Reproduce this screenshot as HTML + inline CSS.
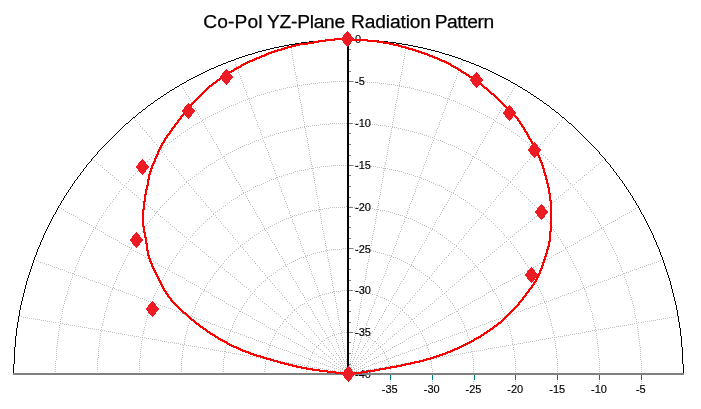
<!DOCTYPE html>
<html><head><meta charset="utf-8"><title>Co-Pol YZ-Plane Radiation Pattern</title>
<style>html,body{margin:0;padding:0;background:#fff;}svg{display:block;}text{font-family:"Liberation Sans",sans-serif;fill:#000;}</style></head><body>
<svg width="701" height="409" viewBox="0 0 701 409">
<rect width="701" height="409" fill="#fff"/>
<path transform="translate(0 0.5)" d="M19 316h1M21 316h1M23 317h1M25 317h1M27 317h1M29 318h1M31 318h1M33 318h1M34 259h1M35 319h1M36 260h1M37 319h1M38 261h1M39 319h1M40 262h1M41 320h1M42 262h1M43 320h1M44 263h1M45 320h1M46 264h1M47 321h1M48 264h1M49 321h1M50 265h1M51 321h1M52 266h1M53 322h1M54 267h1M55 322h1M55 361h1M55 363h1M55 365h1M55 367h1M55 369h1M55 371h1M56 267h1M56 347h1M56 349h1M56 351h1M56 353h1M56 355h1M56 357h1M56 359h1M57 339h1M57 341h1M57 343h1M57 345h1M58 268h1M58 322h1M58 331h1M58 333h1M58 335h1M58 337h1M59 207h1M59 325h1M59 327h1M59 329h1M60 269h1M60 319h1M60 321h1M60 323h1M61 208h1M61 315h1M61 317h1M62 269h1M62 309h1M62 311h1M62 313h1M62 323h1M63 209h1M63 305h1M63 307h1M64 270h1M64 301h1M64 303h1M64 324h1M65 211h1M65 297h1M65 299h1M66 271h1M66 295h1M66 324h1M67 212h1M67 291h1M67 293h1M68 272h1M68 287h1M68 289h1M68 324h1M69 213h1M69 285h1M70 272h1M70 281h1M70 283h1M70 325h1M71 214h1M71 279h1M72 273h1M72 275h1M72 277h1M72 325h1M73 215h1M73 273h1M74 271h1M74 274h1M74 325h1M75 216h1M75 267h1M75 269h1M76 265h1M76 275h1M76 326h1M77 217h1M77 263h1M78 261h1M78 275h1M78 326h1M79 219h1M79 257h1M79 259h1M80 255h1M80 276h1M80 326h1M81 220h1M81 253h1M82 251h1M82 277h1M82 327h1M83 221h1M83 249h1M84 247h1M84 277h1M84 327h1M85 222h1M85 245h1M86 243h1M86 278h1M86 327h1M87 223h1M87 241h1M88 239h1M88 279h1M88 328h1M89 224h1M89 237h1M90 235h1M90 280h1M90 328h1M91 225h1M91 233h1M92 159h1M92 231h1M92 280h1M92 328h1M93 227h1M93 229h1M94 160h1M94 281h1M94 329h1M95 227h1M95 228h1M96 162h1M96 225h1M96 282h1M96 329h1M97 223h1M97 229h1M97 359h1M97 361h1M97 363h1M97 365h1M97 367h1M97 369h1M97 371h1M98 164h1M98 221h1M98 282h1M98 329h1M98 347h1M98 349h1M98 351h1M98 353h1M98 355h1M98 357h1M99 219h1M99 230h1M99 339h1M99 341h1M99 343h1M99 345h1M100 165h1M100 283h1M100 330h1M100 333h1M100 335h1M100 337h1M101 217h1M101 231h1M101 327h1M101 329h1M101 331h1M102 167h1M102 215h1M102 284h1M102 323h1M102 325h1M102 330h1M103 213h1M103 232h1M103 319h1M103 321h1M104 169h1M104 285h1M104 313h1M104 315h1M104 317h1M104 330h1M105 211h1M105 234h1M105 311h1M106 170h1M106 209h1M106 285h1M106 307h1M106 309h1M106 331h1M107 207h1M107 235h1M107 303h1M107 305h1M108 172h1M108 286h1M108 299h1M108 301h1M108 331h1M109 205h1M109 236h1M109 297h1M110 174h1M110 203h1M110 287h1M110 293h1M110 295h1M110 331h1M111 237h1M111 291h1M112 175h1M112 201h1M112 288h1M112 289h1M112 332h1M113 199h1M113 238h1M113 285h1M113 287h1M114 177h1M114 283h1M114 288h1M114 332h1M115 197h1M115 239h1M115 281h1M116 179h1M116 195h1M116 277h1M116 279h1M116 289h1M116 333h1M117 240h1M117 275h1M118 180h1M118 193h1M118 273h1M118 290h1M118 333h1M119 191h1M119 242h1M119 271h1M120 182h1M120 269h1M120 290h1M120 333h1M121 189h1M121 243h1M121 267h1M122 184h1M122 265h1M122 291h1M122 334h1M123 187h1M123 244h1M123 263h1M124 185h1M124 261h1M124 292h1M124 334h1M125 245h1M125 259h1M126 183h1M126 187h1M126 257h1M126 293h1M126 334h1M127 246h1M127 255h1M128 181h1M128 189h1M128 253h1M128 293h1M128 335h1M129 179h1M129 247h1M129 251h1M130 190h1M130 249h1M130 294h1M130 335h1M131 177h1M131 247h1M131 248h1M132 192h1M132 295h1M132 335h1M133 175h1M133 245h1M133 250h1M134 118h1M134 194h1M134 243h1M134 295h1M134 336h1M135 120h1M135 173h1M135 241h1M135 251h1M136 195h1M136 239h1M136 296h1M136 336h1M137 122h1M137 171h1M137 252h1M138 197h1M138 237h1M138 297h1M138 336h1M139 124h1M139 169h1M139 235h1M139 253h1M139 359h1M139 361h1M139 363h1M139 365h1M139 367h1M139 369h1M139 371h1M140 126h1M140 199h1M140 233h1M140 298h1M140 337h1M140 349h1M140 351h1M140 353h1M140 355h1M140 357h1M141 167h1M141 254h1M141 341h1M141 343h1M141 345h1M141 347h1M142 128h1M142 201h1M142 231h1M142 298h1M142 335h1M142 337h1M142 339h1M143 165h1M143 229h1M143 255h1M143 331h1M143 333h1M144 130h1M144 202h1M144 227h1M144 299h1M144 327h1M144 329h1M144 337h1M145 163h1M145 257h1M145 323h1M145 325h1M146 132h1M146 204h1M146 225h1M146 300h1M146 319h1M146 321h1M146 338h1M147 134h1M147 161h1M147 223h1M147 258h1M147 315h1M147 317h1M148 206h1M148 301h1M148 313h1M148 338h1M149 136h1M149 159h1M149 221h1M149 259h1M149 309h1M149 311h1M150 207h1M150 219h1M150 301h1M150 305h1M150 307h1M150 338h1M151 138h1M151 157h1M151 260h1M151 303h1M152 140h1M152 209h1M152 217h1M152 301h1M152 302h1M152 339h1M153 155h1M153 261h1M153 297h1M153 299h1M154 142h1M154 211h1M154 215h1M154 295h1M154 303h1M154 339h1M155 154h1M155 213h1M155 262h1M155 293h1M156 144h1M156 212h1M156 291h1M156 303h1M156 339h1M157 146h1M157 152h1M157 211h1M157 263h1M157 289h1M158 214h1M158 287h1M158 304h1M158 340h1M159 148h1M159 150h1M159 209h1M159 265h1M159 285h1M160 207h1M160 216h1M160 283h1M160 305h1M160 340h1M161 148h1M161 150h1M161 266h1M161 281h1M162 152h1M162 205h1M162 217h1M162 279h1M162 306h1M162 341h1M163 147h1M163 267h1M163 277h1M164 154h1M164 203h1M164 219h1M164 275h1M164 306h1M164 341h1M165 145h1M165 268h1M165 273h1M166 156h1M166 201h1M166 221h1M166 271h1M166 307h1M166 341h1M167 144h1M167 159h1M167 269h1M168 199h1M168 222h1M168 267h1M168 308h1M168 342h1M169 142h1M169 161h1M169 265h1M169 270h1M170 197h1M170 224h1M170 308h1M170 342h1M171 141h1M171 163h1M171 263h1M172 195h1M172 226h1M172 261h1M172 272h1M172 309h1M172 342h1M173 139h1M173 165h1M173 259h1M174 167h1M174 193h1M174 227h1M174 273h1M174 310h1M174 343h1M175 138h1M175 257h1M176 169h1M176 191h1M176 229h1M176 255h1M176 274h1M176 311h1M176 343h1M177 136h1M177 253h1M178 171h1M178 189h1M178 231h1M178 275h1M178 311h1M178 343h1M179 135h1M179 173h1M179 251h1M180 187h1M180 232h1M180 249h1M180 276h1M180 312h1M180 344h1M181 84h1M181 133h1M181 175h1M181 359h1M181 361h1M181 363h1M181 365h1M181 367h1M181 369h1M181 371h1M182 86h1M182 186h1M182 234h1M182 247h1M182 277h1M182 313h1M182 344h1M182 351h1M182 353h1M182 355h1M182 357h1M183 88h1M183 132h1M183 177h1M183 245h1M183 345h1M183 347h1M183 349h1M184 90h1M184 179h1M184 184h1M184 236h1M184 278h1M184 314h1M184 339h1M184 341h1M184 343h1M184 344h1M185 92h1M185 131h1M185 243h1M185 335h1M185 337h1M186 94h1M186 181h1M186 182h1M186 237h1M186 241h1M186 280h1M186 314h1M186 331h1M186 333h1M186 345h1M187 129h1M187 327h1M187 329h1M188 96h1M188 180h1M188 183h1M188 239h1M188 281h1M188 315h1M188 325h1M188 345h1M189 98h1M189 128h1M189 185h1M189 321h1M189 323h1M190 100h1M190 179h1M190 237h1M190 241h1M190 282h1M190 316h1M190 319h1M190 345h1M191 102h1M191 127h1M191 187h1M191 315h1M191 317h1M192 104h1M192 177h1M192 235h1M192 242h1M192 283h1M192 313h1M192 316h1M192 346h1M193 106h1M193 125h1M193 189h1M193 233h1M193 311h1M194 176h1M194 191h1M194 244h1M194 284h1M194 309h1M194 317h1M194 346h1M195 108h1M195 124h1M195 231h1M195 305h1M195 307h1M196 110h1M196 174h1M196 193h1M196 246h1M196 285h1M196 303h1M196 318h1M196 346h1M197 112h1M197 123h1M197 229h1M197 301h1M198 114h1M198 173h1M198 195h1M198 247h1M198 286h1M198 299h1M198 319h1M198 347h1M199 116h1M199 122h1M199 227h1M199 297h1M200 118h1M200 171h1M200 197h1M200 249h1M200 288h1M200 295h1M200 319h1M200 347h1M201 121h1M201 199h1M201 225h1M201 293h1M202 120h1M202 170h1M202 251h1M202 289h1M202 320h1M202 347h1M203 119h1M203 122h1M203 201h1M203 223h1M203 291h1M204 124h1M204 168h1M204 252h1M204 289h1M204 290h1M204 321h1M204 348h1M205 118h1M205 126h1M205 203h1M205 221h1M205 287h1M206 128h1M206 167h1M206 205h1M206 254h1M206 285h1M206 291h1M206 321h1M206 348h1M207 117h1M207 130h1M207 219h1M207 283h1M208 165h1M208 207h1M208 256h1M208 292h1M208 322h1M208 348h1M209 116h1M209 132h1M209 218h1M209 281h1M210 134h1M210 164h1M210 209h1M210 257h1M210 279h1M210 293h1M210 323h1M210 349h1M211 115h1M211 136h1M211 211h1M211 216h1M212 138h1M212 163h1M212 259h1M212 277h1M212 295h1M212 324h1M212 349h1M213 114h1M213 140h1M213 213h1M213 214h1M213 275h1M214 142h1M214 162h1M214 261h1M214 273h1M214 296h1M214 324h1M214 350h1M215 113h1M215 212h1M215 215h1M216 144h1M216 160h1M216 217h1M216 262h1M216 271h1M216 297h1M216 325h1M216 350h1M217 112h1M217 146h1M217 211h1M218 148h1M218 159h1M218 219h1M218 264h1M218 269h1M218 298h1M218 326h1M218 350h1M219 111h1M219 150h1M219 209h1M219 267h1M220 152h1M220 158h1M220 221h1M220 266h1M220 299h1M220 327h1M220 351h1M221 110h1M221 154h1M221 208h1M221 223h1M221 265h1M222 157h1M222 267h1M222 300h1M222 327h1M222 351h1M223 109h1M223 156h1M223 206h1M223 225h1M223 263h1M223 359h1M223 361h1M223 363h1M223 365h1M223 367h1M223 369h1M223 371h1M224 156h1M224 158h1M224 261h1M224 269h1M224 301h1M224 328h1M224 351h1M224 353h1M224 355h1M224 357h1M225 108h1M225 160h1M225 205h1M225 227h1M225 347h1M225 349h1M225 351h1M226 154h1M226 162h1M226 259h1M226 271h1M226 303h1M226 329h1M226 343h1M226 345h1M226 352h1M227 107h1M227 164h1M227 203h1M227 229h1M227 339h1M227 341h1M228 153h1M228 166h1M228 231h1M228 257h1M228 272h1M228 304h1M228 329h1M228 337h1M228 352h1M229 106h1M229 168h1M229 202h1M229 333h1M229 335h1M230 152h1M230 233h1M230 255h1M230 274h1M230 305h1M230 330h1M230 331h1M230 352h1M231 105h1M231 170h1M231 200h1M231 329h1M232 151h1M232 172h1M232 235h1M232 253h1M232 276h1M232 306h1M232 325h1M232 327h1M232 331h1M232 353h1M233 105h1M233 174h1M233 199h1M233 237h1M233 323h1M234 60h1M234 150h1M234 176h1M234 251h1M234 277h1M234 307h1M234 321h1M234 332h1M234 353h1M235 62h1M235 64h1M235 104h1M235 178h1M235 198h1M235 239h1M235 319h1M236 66h1M236 149h1M236 180h1M236 249h1M236 279h1M236 308h1M236 317h1M236 332h1M236 353h1M237 68h1M237 103h1M237 197h1M237 241h1M237 315h1M238 70h1M238 72h1M238 148h1M238 182h1M238 243h1M238 248h1M238 281h1M238 309h1M238 313h1M238 333h1M238 354h1M239 74h1M239 102h1M239 184h1M239 195h1M239 311h1M240 76h1M240 78h1M240 147h1M240 186h1M240 245h1M240 246h1M240 282h1M240 311h1M240 334h1M240 354h1M241 80h1M241 101h1M241 188h1M241 194h1M241 309h1M242 82h1M242 146h1M242 190h1M242 244h1M242 247h1M242 284h1M242 307h1M242 312h1M242 334h1M242 354h1M243 84h1M243 86h1M243 100h1M243 192h1M243 193h1M243 249h1M243 305h1M244 88h1M244 145h1M244 243h1M244 286h1M244 303h1M244 313h1M244 335h1M244 355h1M245 90h1M245 100h1M245 192h1M245 194h1M245 251h1M246 92h1M246 94h1M246 144h1M246 196h1M246 241h1M246 287h1M246 301h1M246 314h1M246 336h1M246 355h1M247 96h1M247 99h1M247 191h1M247 198h1M247 253h1M247 299h1M248 98h1M248 144h1M248 200h1M248 240h1M248 255h1M248 289h1M248 315h1M248 337h1M248 355h1M249 98h1M249 100h1M249 102h1M249 190h1M249 202h1M249 297h1M250 104h1M250 143h1M250 204h1M250 238h1M250 257h1M250 291h1M250 295h1M250 316h1M250 337h1M250 356h1M251 98h1M251 106h1M251 108h1M251 189h1M252 110h1M252 142h1M252 206h1M252 237h1M252 259h1M252 293h1M252 318h1M252 338h1M252 356h1M253 97h1M253 112h1M253 187h1M253 208h1M254 114h1M254 116h1M254 141h1M254 210h1M254 235h1M254 261h1M254 291h1M254 294h1M254 319h1M254 339h1M254 356h1M255 96h1M255 118h1M255 186h1M255 212h1M255 263h1M255 289h1M256 120h1M256 140h1M256 214h1M256 234h1M256 296h1M256 320h1M256 340h1M256 357h1M257 95h1M257 122h1M257 124h1M257 185h1M257 216h1M257 265h1M257 287h1M258 126h1M258 140h1M258 233h1M258 298h1M258 321h1M258 340h1M258 357h1M259 95h1M259 128h1M259 185h1M259 218h1M259 267h1M259 285h1M260 130h1M260 132h1M260 139h1M260 220h1M260 231h1M260 269h1M260 299h1M260 322h1M260 341h1M260 358h1M261 94h1M261 134h1M261 184h1M261 222h1M261 283h1M262 136h1M262 138h1M262 224h1M262 230h1M262 271h1M262 301h1M262 323h1M262 342h1M262 358h1M263 94h1M263 140h1M263 183h1M263 226h1M263 281h1M264 137h1M264 142h1M264 228h1M264 229h1M264 273h1M264 303h1M264 324h1M264 342h1M264 358h1M264 369h1M264 371h1M265 93h1M265 144h1M265 146h1M265 182h1M265 230h1M265 275h1M265 280h1M265 361h1M265 363h1M265 365h1M265 367h1M266 137h1M266 148h1M266 228h1M266 304h1M266 326h1M266 343h1M266 355h1M266 357h1M266 359h1M267 92h1M267 150h1M267 181h1M267 232h1M267 277h1M267 278h1M267 353h1M268 136h1M268 152h1M268 154h1M268 227h1M268 234h1M268 306h1M268 327h1M268 344h1M268 349h1M268 351h1M268 359h1M269 92h1M269 156h1M269 180h1M269 236h1M269 276h1M269 279h1M269 345h1M269 347h1M270 135h1M270 158h1M270 160h1M270 226h1M270 238h1M270 281h1M270 308h1M270 328h1M270 343h1M270 345h1M270 359h1M271 91h1M271 162h1M271 179h1M271 240h1M271 275h1M271 341h1M272 135h1M272 164h1M272 225h1M272 242h1M272 283h1M272 309h1M272 329h1M272 339h1M272 345h1M272 360h1M273 91h1M273 166h1M273 168h1M273 179h1M273 273h1M273 337h1M274 134h1M274 170h1M274 224h1M274 244h1M274 285h1M274 311h1M274 330h1M274 335h1M274 346h1M274 360h1M275 90h1M275 173h1M275 178h1M275 246h1M275 272h1M275 287h1M275 333h1M276 133h1M276 175h1M276 177h1M276 223h1M276 248h1M276 313h1M276 331h1M276 347h1M276 360h1M277 90h1M277 177h1M277 179h1M277 250h1M277 270h1M277 289h1M277 329h1M278 133h1M278 181h1M278 222h1M278 252h1M278 314h1M278 333h1M278 348h1M278 361h1M279 89h1M279 176h1M279 183h1M279 185h1M279 254h1M279 269h1M279 291h1M279 327h1M280 132h1M280 187h1M280 221h1M280 316h1M280 325h1M280 334h1M280 348h1M280 361h1M281 89h1M281 176h1M281 189h1M281 191h1M281 256h1M281 268h1M281 293h1M282 132h1M282 193h1M282 220h1M282 258h1M282 295h1M282 318h1M282 323h1M282 335h1M282 349h1M282 361h1M283 88h1M283 175h1M283 195h1M283 260h1M283 266h1M283 321h1M284 131h1M284 197h1M284 199h1M284 219h1M284 262h1M284 297h1M284 319h1M284 336h1M284 350h1M284 362h1M285 88h1M285 174h1M285 201h1M285 264h1M285 265h1M285 319h1M286 131h1M286 203h1M286 218h1M286 266h1M286 299h1M286 321h1M286 337h1M286 350h1M286 362h1M287 87h1M287 174h1M287 205h1M287 207h1M287 264h1M287 301h1M287 317h1M288 130h1M288 209h1M288 218h1M288 269h1M288 315h1M288 323h1M288 338h1M288 351h1M288 362h1M289 87h1M289 173h1M289 211h1M289 213h1M289 263h1M289 271h1M289 303h1M290 44h1M290 46h1M290 130h1M290 215h1M290 217h1M290 273h1M290 314h1M290 324h1M290 339h1M290 352h1M290 363h1M291 48h1M291 50h1M291 52h1M291 87h1M291 173h1M291 217h1M291 262h1M291 275h1M291 305h1M292 54h1M292 56h1M292 58h1M292 129h1M292 216h1M292 219h1M292 221h1M292 277h1M292 307h1M292 312h1M292 326h1M292 341h1M292 353h1M292 363h1M293 60h1M293 62h1M293 64h1M293 86h1M293 172h1M293 223h1M293 261h1M293 279h1M294 66h1M294 68h1M294 70h1M294 129h1M294 215h1M294 225h1M294 309h1M294 310h1M294 328h1M294 342h1M294 353h1M294 363h1M295 72h1M295 74h1M295 86h1M295 171h1M295 227h1M295 229h1M295 260h1M295 281h1M296 76h1M296 78h1M296 80h1M296 128h1M296 215h1M296 231h1M296 283h1M296 308h1M296 311h1M296 329h1M296 343h1M296 354h1M296 364h1M297 82h1M297 84h1M297 85h1M297 86h1M297 171h1M297 233h1M297 259h1M297 285h1M297 313h1M298 88h1M298 90h1M298 92h1M298 128h1M298 214h1M298 235h1M298 237h1M298 287h1M298 307h1M298 331h1M298 344h1M298 355h1M298 364h1M299 85h1M299 94h1M299 96h1M299 98h1M299 170h1M299 239h1M299 258h1M299 289h1M299 315h1M300 100h1M300 102h1M300 127h1M300 214h1M300 241h1M300 243h1M300 291h1M300 305h1M300 333h1M300 345h1M300 355h1M300 364h1M301 85h1M301 104h1M301 106h1M301 108h1M301 170h1M301 245h1M301 257h1M301 317h1M302 110h1M302 112h1M302 114h1M302 127h1M302 213h1M302 247h1M302 293h1M302 304h1M302 319h1M302 334h1M302 346h1M302 356h1M302 365h1M303 84h1M303 116h1M303 118h1M303 120h1M303 170h1M303 249h1M303 251h1M303 257h1M303 295h1M304 122h1M304 124h1M304 126h1M304 127h1M304 212h1M304 253h1M304 297h1M304 303h1M304 321h1M304 336h1M304 347h1M304 357h1M304 365h1M305 84h1M305 128h1M305 130h1M305 132h1M305 169h1M305 255h1M305 256h1M305 299h1M306 126h1M306 134h1M306 136h1M306 212h1M306 257h1M306 259h1M306 301h1M306 323h1M306 338h1M306 349h1M306 358h1M306 366h1M306 369h1M306 371h1M307 84h1M307 138h1M307 140h1M307 142h1M307 169h1M307 255h1M307 261h1M307 303h1M307 365h1M307 367h1M308 126h1M308 144h1M308 146h1M308 148h1M308 211h1M308 263h1M308 300h1M308 305h1M308 325h1M308 339h1M308 350h1M308 358h1M308 361h1M308 363h1M308 366h1M309 84h1M309 150h1M309 152h1M309 154h1M309 168h1M309 255h1M309 265h1M309 267h1M309 327h1M309 359h1M310 126h1M310 156h1M310 158h1M310 160h1M310 211h1M310 269h1M310 299h1M310 307h1M310 341h1M310 351h1M310 357h1M310 359h1M310 366h1M311 83h1M311 162h1M311 164h1M311 168h1M311 254h1M311 271h1M311 273h1M311 309h1M311 329h1M311 355h1M312 125h1M312 166h1M312 168h1M312 170h1M312 210h1M312 275h1M312 298h1M312 311h1M312 343h1M312 352h1M312 353h1M312 360h1M312 367h1M313 83h1M313 168h1M313 172h1M313 174h1M313 176h1M313 253h1M313 277h1M313 313h1M313 331h1M313 351h1M314 125h1M314 178h1M314 180h1M314 182h1M314 210h1M314 279h1M314 281h1M314 297h1M314 315h1M314 333h1M314 344h1M314 349h1M314 353h1M314 361h1M314 367h1M315 83h1M315 167h1M315 184h1M315 186h1M315 188h1M315 253h1M315 283h1M315 317h1M316 125h1M316 190h1M316 192h1M316 194h1M316 210h1M316 285h1M316 297h1M316 335h1M316 346h1M316 347h1M316 354h1M316 361h1M316 367h1M317 83h1M317 167h1M317 196h1M317 198h1M317 252h1M317 287h1M317 289h1M317 319h1M318 125h1M318 201h1M318 203h1M318 205h1M318 209h1M318 291h1M318 296h1M318 321h1M318 337h1M318 345h1M318 348h1M318 356h1M318 362h1M318 368h1M319 82h1M319 167h1M319 207h1M319 209h1M319 211h1M319 252h1M319 293h1M319 295h1M319 323h1M319 339h1M320 124h1M320 209h1M320 213h1M320 215h1M320 217h1M320 295h1M320 297h1M320 325h1M320 343h1M320 349h1M320 357h1M320 363h1M320 368h1M321 82h1M321 166h1M321 219h1M321 221h1M321 223h1M321 251h1M321 299h1M321 327h1M321 341h1M322 124h1M322 209h1M322 225h1M322 227h1M322 229h1M322 294h1M322 301h1M322 303h1M322 329h1M322 341h1M322 351h1M322 358h1M322 363h1M322 368h1M323 82h1M323 166h1M323 231h1M323 233h1M323 251h1M323 305h1M323 343h1M324 124h1M324 208h1M324 235h1M324 237h1M324 239h1M324 294h1M324 307h1M324 331h1M324 340h1M324 345h1M324 353h1M324 359h1M324 364h1M324 369h1M325 82h1M325 166h1M325 241h1M325 243h1M325 245h1M325 250h1M325 309h1M325 311h1M325 333h1M326 124h1M326 208h1M326 247h1M326 249h1M326 251h1M326 293h1M326 313h1M326 335h1M326 338h1M326 347h1M326 354h1M326 360h1M326 365h1M326 369h1M327 82h1M327 166h1M327 250h1M327 253h1M327 255h1M327 257h1M327 315h1M327 337h1M328 124h1M328 208h1M328 259h1M328 261h1M328 293h1M328 317h1M328 319h1M328 337h1M328 339h1M328 349h1M328 356h1M328 361h1M328 366h1M328 369h1M329 82h1M329 166h1M329 250h1M329 263h1M329 265h1M329 267h1M329 321h1M329 341h1M329 351h1M330 123h1M330 207h1M330 269h1M330 271h1M330 273h1M330 292h1M330 323h1M330 325h1M330 336h1M330 358h1M330 362h1M330 366h1M330 370h1M331 81h1M331 165h1M331 249h1M331 275h1M331 277h1M331 279h1M331 327h1M331 343h1M331 353h1M332 123h1M332 207h1M332 281h1M332 283h1M332 285h1M332 292h1M332 329h1M332 335h1M332 345h1M332 359h1M332 364h1M332 367h1M332 370h1M333 81h1M333 165h1M333 249h1M333 287h1M333 289h1M333 291h1M333 331h1M333 333h1M333 347h1M333 355h1M334 123h1M334 207h1M334 291h1M334 293h1M334 295h1M334 334h1M334 335h1M334 349h1M334 361h1M334 365h1M334 368h1M334 370h1M335 81h1M335 165h1M335 249h1M335 297h1M335 299h1M335 301h1M335 337h1M335 351h1M335 357h1M336 123h1M336 207h1M336 291h1M336 303h1M336 305h1M336 307h1M336 334h1M336 339h1M336 341h1M336 353h1M336 359h1M336 363h1M336 366h1M336 368h1M336 371h1M337 81h1M337 165h1M337 249h1M337 309h1M337 311h1M337 313h1M337 343h1M338 123h1M338 207h1M338 291h1M338 315h1M338 317h1M338 319h1M338 333h1M338 345h1M338 347h1M338 355h1M338 361h1M338 364h1M338 367h1M338 369h1M338 371h1M339 81h1M339 165h1M339 249h1M339 321h1M339 323h1M339 325h1M339 349h1M339 357h1M340 123h1M340 207h1M340 291h1M340 327h1M340 329h1M340 333h1M340 351h1M340 359h1M340 363h1M340 366h1M340 368h1M340 370h1M340 371h1M341 81h1M341 165h1M341 249h1M341 331h1M341 333h1M341 335h1M341 353h1M341 355h1M341 361h1M341 365h1M342 123h1M342 207h1M342 290h1M342 332h1M342 337h1M342 339h1M342 341h1M342 357h1M342 363h1M342 368h1M342 369h1M342 371h1M342 372h1M343 81h1M343 165h1M343 248h1M343 343h1M343 345h1M343 347h1M343 359h1M343 365h1M343 367h1M344 123h1M344 207h1M344 290h1M344 332h1M344 349h1M344 351h1M344 353h1M344 361h1M344 363h1M344 369h1M344 370h1M344 371h1M344 372h1M345 81h1M345 165h1M345 248h1M345 355h1M345 357h1M345 365h1M345 367h1M345 369h1M346 123h1M346 206h1M346 290h1M346 332h1M346 359h1M346 361h1M346 363h1M346 367h1M346 369h1M346 371h1M346 372h1M347 81h1M347 165h1M347 248h1M347 365h1M347 367h1M347 369h1M347 371h1M348 123h1M348 206h1M348 290h1M348 332h1M348 371h1M349 81h1M349 165h1M349 248h1M349 365h1M349 367h1M349 369h1M349 371h1M350 123h1M350 206h1M350 290h1M350 332h1M350 359h1M350 361h1M350 363h1M350 367h1M350 369h1M350 371h1M350 372h1M351 81h1M351 165h1M351 248h1M351 355h1M351 357h1M351 365h1M351 367h1M351 369h1M352 123h1M352 207h1M352 290h1M352 332h1M352 349h1M352 351h1M352 353h1M352 361h1M352 363h1M352 369h1M352 370h1M352 371h1M352 372h1M353 81h1M353 165h1M353 248h1M353 343h1M353 345h1M353 347h1M353 359h1M353 365h1M353 367h1M354 123h1M354 207h1M354 290h1M354 332h1M354 337h1M354 339h1M354 341h1M354 357h1M354 363h1M354 368h1M354 369h1M354 371h1M354 372h1M355 81h1M355 165h1M355 249h1M355 331h1M355 333h1M355 335h1M355 353h1M355 355h1M355 361h1M355 365h1M356 123h1M356 207h1M356 291h1M356 327h1M356 329h1M356 333h1M356 351h1M356 359h1M356 363h1M356 366h1M356 368h1M356 370h1M356 371h1M357 81h1M357 165h1M357 249h1M357 321h1M357 323h1M357 325h1M357 349h1M357 357h1M358 123h1M358 207h1M358 291h1M358 315h1M358 317h1M358 319h1M358 333h1M358 345h1M358 347h1M358 355h1M358 361h1M358 364h1M358 367h1M358 369h1M358 371h1M359 81h1M359 165h1M359 249h1M359 309h1M359 311h1M359 313h1M359 343h1M360 123h1M360 207h1M360 291h1M360 303h1M360 305h1M360 307h1M360 334h1M360 339h1M360 341h1M360 353h1M360 359h1M360 363h1M360 366h1M360 368h1M360 371h1M361 81h1M361 165h1M361 249h1M361 297h1M361 299h1M361 301h1M361 337h1M361 351h1M361 357h1M362 123h1M362 207h1M362 291h1M362 293h1M362 295h1M362 334h1M362 335h1M362 349h1M362 361h1M362 365h1M362 368h1M362 370h1M363 81h1M363 165h1M363 249h1M363 287h1M363 289h1M363 291h1M363 331h1M363 333h1M363 347h1M363 355h1M364 123h1M364 207h1M364 281h1M364 283h1M364 285h1M364 292h1M364 329h1M364 335h1M364 345h1M364 359h1M364 364h1M364 367h1M364 370h1M365 81h1M365 165h1M365 249h1M365 275h1M365 277h1M365 279h1M365 327h1M365 343h1M365 353h1M366 123h1M366 207h1M366 269h1M366 271h1M366 273h1M366 292h1M366 323h1M366 325h1M366 336h1M366 358h1M366 362h1M366 366h1M366 370h1M367 82h1M367 166h1M367 250h1M367 263h1M367 265h1M367 267h1M367 321h1M367 341h1M367 351h1M368 124h1M368 208h1M368 259h1M368 261h1M368 293h1M368 317h1M368 319h1M368 337h1M368 339h1M368 349h1M368 356h1M368 361h1M368 366h1M368 369h1M369 82h1M369 166h1M369 250h1M369 253h1M369 255h1M369 257h1M369 315h1M369 337h1M370 124h1M370 208h1M370 247h1M370 249h1M370 251h1M370 293h1M370 313h1M370 335h1M370 338h1M370 347h1M370 354h1M370 360h1M370 365h1M370 369h1M371 82h1M371 166h1M371 241h1M371 243h1M371 245h1M371 250h1M371 309h1M371 311h1M371 333h1M372 124h1M372 208h1M372 235h1M372 237h1M372 239h1M372 294h1M372 307h1M372 331h1M372 340h1M372 345h1M372 353h1M372 359h1M372 364h1M372 369h1M373 82h1M373 166h1M373 231h1M373 233h1M373 251h1M373 305h1M373 343h1M374 124h1M374 209h1M374 225h1M374 227h1M374 229h1M374 294h1M374 301h1M374 303h1M374 329h1M374 341h1M374 351h1M374 358h1M374 363h1M374 368h1M375 82h1M375 166h1M375 219h1M375 221h1M375 223h1M375 251h1M375 299h1M375 327h1M375 341h1M376 124h1M376 209h1M376 213h1M376 215h1M376 217h1M376 295h1M376 297h1M376 325h1M376 343h1M376 349h1M376 357h1M376 363h1M376 368h1M377 82h1M377 167h1M377 207h1M377 209h1M377 211h1M377 252h1M377 293h1M377 295h1M377 323h1M377 339h1M378 125h1M378 201h1M378 203h1M378 205h1M378 209h1M378 291h1M378 296h1M378 321h1M378 337h1M378 345h1M378 348h1M378 356h1M378 362h1M378 368h1M379 83h1M379 167h1M379 196h1M379 198h1M379 252h1M379 287h1M379 289h1M379 319h1M380 125h1M380 190h1M380 192h1M380 194h1M380 210h1M380 285h1M380 297h1M380 335h1M380 346h1M380 347h1M380 354h1M380 361h1M380 367h1M381 83h1M381 167h1M381 184h1M381 186h1M381 188h1M381 253h1M381 283h1M381 317h1M382 125h1M382 178h1M382 180h1M382 182h1M382 210h1M382 279h1M382 281h1M382 297h1M382 315h1M382 333h1M382 344h1M382 349h1M382 353h1M382 361h1M382 367h1M383 83h1M383 168h1M383 172h1M383 174h1M383 176h1M383 253h1M383 277h1M383 313h1M383 331h1M383 351h1M384 125h1M384 166h1M384 168h1M384 170h1M384 210h1M384 275h1M384 298h1M384 311h1M384 343h1M384 352h1M384 353h1M384 360h1M384 367h1M385 83h1M385 162h1M385 164h1M385 168h1M385 254h1M385 271h1M385 273h1M385 309h1M385 329h1M385 355h1M386 126h1M386 156h1M386 158h1M386 160h1M386 211h1M386 269h1M386 299h1M386 307h1M386 341h1M386 351h1M386 357h1M386 359h1M386 366h1M387 84h1M387 150h1M387 152h1M387 154h1M387 168h1M387 255h1M387 265h1M387 267h1M387 327h1M387 359h1M388 126h1M388 144h1M388 146h1M388 148h1M388 211h1M388 263h1M388 300h1M388 305h1M388 325h1M388 339h1M388 350h1M388 358h1M388 361h1M388 363h1M388 366h1M389 84h1M389 138h1M389 140h1M389 142h1M389 169h1M389 255h1M389 261h1M389 303h1M389 365h1M389 367h1M390 126h1M390 134h1M390 136h1M390 212h1M390 257h1M390 259h1M390 301h1M390 323h1M390 338h1M390 349h1M390 358h1M390 366h1M390 369h1M390 371h1M390 381h1M390 383h1M391 84h1M391 128h1M391 130h1M391 132h1M391 169h1M391 255h1M391 256h1M391 299h1M392 122h1M392 124h1M392 126h1M392 127h1M392 212h1M392 253h1M392 297h1M392 303h1M392 321h1M392 336h1M392 347h1M392 357h1M392 365h1M393 84h1M393 116h1M393 118h1M393 120h1M393 170h1M393 249h1M393 251h1M393 257h1M393 295h1M394 110h1M394 112h1M394 114h1M394 127h1M394 213h1M394 247h1M394 293h1M394 304h1M394 319h1M394 334h1M394 346h1M394 356h1M394 365h1M395 85h1M395 104h1M395 106h1M395 108h1M395 170h1M395 245h1M395 257h1M395 317h1M396 100h1M396 102h1M396 127h1M396 214h1M396 241h1M396 243h1M396 291h1M396 305h1M396 333h1M396 345h1M396 355h1M396 364h1M397 85h1M397 94h1M397 96h1M397 98h1M397 170h1M397 239h1M397 258h1M397 289h1M397 315h1M398 88h1M398 90h1M398 92h1M398 128h1M398 214h1M398 235h1M398 237h1M398 287h1M398 307h1M398 331h1M398 344h1M398 355h1M398 364h1M399 82h1M399 84h1M399 85h1M399 86h1M399 171h1M399 233h1M399 259h1M399 285h1M399 313h1M400 76h1M400 78h1M400 80h1M400 128h1M400 215h1M400 231h1M400 283h1M400 308h1M400 311h1M400 329h1M400 343h1M400 354h1M400 364h1M401 72h1M401 74h1M401 86h1M401 171h1M401 227h1M401 229h1M401 260h1M401 281h1M402 66h1M402 68h1M402 70h1M402 129h1M402 215h1M402 225h1M402 309h1M402 310h1M402 328h1M402 342h1M402 353h1M402 363h1M403 60h1M403 62h1M403 64h1M403 86h1M403 172h1M403 223h1M403 261h1M403 279h1M404 54h1M404 56h1M404 58h1M404 129h1M404 216h1M404 219h1M404 221h1M404 277h1M404 307h1M404 312h1M404 326h1M404 341h1M404 353h1M404 363h1M405 48h1M405 50h1M405 52h1M405 87h1M405 173h1M405 217h1M405 262h1M405 275h1M405 305h1M406 44h1M406 46h1M406 130h1M406 215h1M406 217h1M406 273h1M406 314h1M406 324h1M406 339h1M406 352h1M406 363h1M407 87h1M407 173h1M407 211h1M407 213h1M407 263h1M407 271h1M407 303h1M408 130h1M408 209h1M408 218h1M408 269h1M408 315h1M408 323h1M408 338h1M408 351h1M408 362h1M409 87h1M409 174h1M409 205h1M409 207h1M409 264h1M409 301h1M409 317h1M410 131h1M410 203h1M410 218h1M410 266h1M410 299h1M410 321h1M410 337h1M410 350h1M410 362h1M411 88h1M411 174h1M411 201h1M411 264h1M411 265h1M411 319h1M412 131h1M412 197h1M412 199h1M412 219h1M412 262h1M412 297h1M412 319h1M412 336h1M412 350h1M412 362h1M413 88h1M413 175h1M413 195h1M413 260h1M413 266h1M413 321h1M414 132h1M414 193h1M414 220h1M414 258h1M414 295h1M414 318h1M414 323h1M414 335h1M414 349h1M414 361h1M415 89h1M415 176h1M415 189h1M415 191h1M415 256h1M415 268h1M415 293h1M416 132h1M416 187h1M416 221h1M416 316h1M416 325h1M416 334h1M416 348h1M416 361h1M417 89h1M417 176h1M417 183h1M417 185h1M417 254h1M417 269h1M417 291h1M417 327h1M418 133h1M418 181h1M418 222h1M418 252h1M418 314h1M418 333h1M418 348h1M418 361h1M419 90h1M419 177h1M419 179h1M419 250h1M419 270h1M419 289h1M419 329h1M420 133h1M420 175h1M420 177h1M420 223h1M420 248h1M420 313h1M420 331h1M420 347h1M420 360h1M421 90h1M421 173h1M421 178h1M421 246h1M421 272h1M421 287h1M421 333h1M422 134h1M422 170h1M422 224h1M422 244h1M422 285h1M422 311h1M422 330h1M422 335h1M422 346h1M422 360h1M423 91h1M423 166h1M423 168h1M423 179h1M423 273h1M423 337h1M424 135h1M424 164h1M424 225h1M424 242h1M424 283h1M424 309h1M424 329h1M424 339h1M424 345h1M424 360h1M425 91h1M425 162h1M425 179h1M425 240h1M425 275h1M425 341h1M426 135h1M426 158h1M426 160h1M426 226h1M426 238h1M426 281h1M426 308h1M426 328h1M426 343h1M426 345h1M426 359h1M427 92h1M427 156h1M427 180h1M427 236h1M427 276h1M427 279h1M427 345h1M427 347h1M428 136h1M428 152h1M428 154h1M428 227h1M428 234h1M428 306h1M428 327h1M428 344h1M428 349h1M428 351h1M428 359h1M429 92h1M429 150h1M429 181h1M429 232h1M429 277h1M429 278h1M429 353h1M430 137h1M430 148h1M430 228h1M430 304h1M430 326h1M430 343h1M430 355h1M430 357h1M430 359h1M431 93h1M431 144h1M431 146h1M431 182h1M431 230h1M431 275h1M431 280h1M431 361h1M431 363h1M431 365h1M431 367h1M432 137h1M432 142h1M432 228h1M432 229h1M432 273h1M432 303h1M432 324h1M432 342h1M432 358h1M432 369h1M432 371h1M432 381h1M432 383h1M433 94h1M433 140h1M433 183h1M433 226h1M433 281h1M434 136h1M434 138h1M434 224h1M434 230h1M434 271h1M434 301h1M434 323h1M434 342h1M434 358h1M435 94h1M435 134h1M435 184h1M435 222h1M435 283h1M436 130h1M436 132h1M436 139h1M436 220h1M436 231h1M436 269h1M436 299h1M436 322h1M436 341h1M436 358h1M437 95h1M437 128h1M437 185h1M437 218h1M437 267h1M437 285h1M438 126h1M438 140h1M438 233h1M438 298h1M438 321h1M438 340h1M438 357h1M439 95h1M439 122h1M439 124h1M439 185h1M439 216h1M439 265h1M439 287h1M440 120h1M440 140h1M440 214h1M440 234h1M440 296h1M440 320h1M440 340h1M440 357h1M441 96h1M441 118h1M441 186h1M441 212h1M441 263h1M441 289h1M442 114h1M442 116h1M442 141h1M442 210h1M442 235h1M442 261h1M442 291h1M442 294h1M442 319h1M442 339h1M442 356h1M443 97h1M443 112h1M443 187h1M443 208h1M444 110h1M444 142h1M444 206h1M444 237h1M444 259h1M444 293h1M444 318h1M444 338h1M444 356h1M445 98h1M445 106h1M445 108h1M445 189h1M446 104h1M446 143h1M446 204h1M446 238h1M446 257h1M446 291h1M446 295h1M446 316h1M446 337h1M446 356h1M447 98h1M447 100h1M447 102h1M447 190h1M447 202h1M447 297h1M448 98h1M448 144h1M448 200h1M448 240h1M448 255h1M448 289h1M448 315h1M448 337h1M448 355h1M449 96h1M449 99h1M449 191h1M449 198h1M449 253h1M449 299h1M450 92h1M450 94h1M450 144h1M450 196h1M450 241h1M450 287h1M450 301h1M450 314h1M450 336h1M450 355h1M451 90h1M451 100h1M451 192h1M451 194h1M451 251h1M452 88h1M452 145h1M452 243h1M452 286h1M452 303h1M452 313h1M452 335h1M452 355h1M453 84h1M453 86h1M453 100h1M453 192h1M453 193h1M453 249h1M453 305h1M454 82h1M454 146h1M454 190h1M454 244h1M454 247h1M454 284h1M454 307h1M454 312h1M454 334h1M454 354h1M455 80h1M455 101h1M455 188h1M455 194h1M455 309h1M456 76h1M456 78h1M456 147h1M456 186h1M456 245h1M456 246h1M456 282h1M456 311h1M456 334h1M456 354h1M457 74h1M457 102h1M457 184h1M457 195h1M457 311h1M458 70h1M458 72h1M458 148h1M458 182h1M458 243h1M458 248h1M458 281h1M458 309h1M458 313h1M458 333h1M458 354h1M459 68h1M459 103h1M459 197h1M459 241h1M459 315h1M460 66h1M460 149h1M460 180h1M460 249h1M460 279h1M460 308h1M460 317h1M460 332h1M460 353h1M461 62h1M461 64h1M461 104h1M461 178h1M461 198h1M461 239h1M461 319h1M462 60h1M462 150h1M462 176h1M462 251h1M462 277h1M462 307h1M462 321h1M462 332h1M462 353h1M463 105h1M463 174h1M463 199h1M463 237h1M463 323h1M464 151h1M464 172h1M464 235h1M464 253h1M464 276h1M464 306h1M464 325h1M464 327h1M464 331h1M464 353h1M465 105h1M465 170h1M465 200h1M465 329h1M466 152h1M466 233h1M466 255h1M466 274h1M466 305h1M466 330h1M466 331h1M466 352h1M467 106h1M467 168h1M467 202h1M467 333h1M467 335h1M468 153h1M468 166h1M468 231h1M468 257h1M468 272h1M468 304h1M468 329h1M468 337h1M468 352h1M469 107h1M469 164h1M469 203h1M469 229h1M469 339h1M469 341h1M470 154h1M470 162h1M470 259h1M470 271h1M470 303h1M470 329h1M470 343h1M470 345h1M470 352h1M471 108h1M471 160h1M471 205h1M471 227h1M471 347h1M471 349h1M471 351h1M472 156h1M472 158h1M472 261h1M472 269h1M472 301h1M472 328h1M472 351h1M472 353h1M472 355h1M472 357h1M473 109h1M473 156h1M473 206h1M473 225h1M473 263h1M473 359h1M473 361h1M473 363h1M473 365h1M473 367h1M473 369h1M473 371h1M473 381h1M473 383h1M474 157h1M474 267h1M474 300h1M474 327h1M474 351h1M475 110h1M475 154h1M475 208h1M475 223h1M475 265h1M476 152h1M476 158h1M476 221h1M476 266h1M476 299h1M476 327h1M476 351h1M477 111h1M477 150h1M477 209h1M477 267h1M478 148h1M478 159h1M478 219h1M478 264h1M478 269h1M478 298h1M478 326h1M478 350h1M479 112h1M479 146h1M479 211h1M480 144h1M480 160h1M480 217h1M480 262h1M480 271h1M480 297h1M480 325h1M480 350h1M481 113h1M481 212h1M481 215h1M482 142h1M482 162h1M482 261h1M482 273h1M482 296h1M482 324h1M482 350h1M483 114h1M483 140h1M483 213h1M483 214h1M483 275h1M484 138h1M484 163h1M484 259h1M484 277h1M484 295h1M484 324h1M484 349h1M485 115h1M485 136h1M485 211h1M485 216h1M486 134h1M486 164h1M486 209h1M486 257h1M486 279h1M486 293h1M486 323h1M486 349h1M487 116h1M487 132h1M487 218h1M487 281h1M488 165h1M488 207h1M488 256h1M488 292h1M488 322h1M488 348h1M489 117h1M489 130h1M489 219h1M489 283h1M490 128h1M490 167h1M490 205h1M490 254h1M490 285h1M490 291h1M490 321h1M490 348h1M491 118h1M491 126h1M491 203h1M491 221h1M491 287h1M492 124h1M492 168h1M492 252h1M492 289h1M492 290h1M492 321h1M492 348h1M493 119h1M493 122h1M493 201h1M493 223h1M493 291h1M494 120h1M494 170h1M494 251h1M494 289h1M494 320h1M494 347h1M495 121h1M495 199h1M495 225h1M495 293h1M496 118h1M496 171h1M496 197h1M496 249h1M496 288h1M496 295h1M496 319h1M496 347h1M497 116h1M497 122h1M497 227h1M497 297h1M498 114h1M498 173h1M498 195h1M498 247h1M498 286h1M498 299h1M498 319h1M498 347h1M499 112h1M499 123h1M499 229h1M499 301h1M500 110h1M500 174h1M500 193h1M500 246h1M500 285h1M500 303h1M500 318h1M500 346h1M501 108h1M501 124h1M501 231h1M501 305h1M501 307h1M502 176h1M502 191h1M502 244h1M502 284h1M502 309h1M502 317h1M502 346h1M503 106h1M503 125h1M503 189h1M503 233h1M503 311h1M504 104h1M504 177h1M504 235h1M504 242h1M504 283h1M504 313h1M504 316h1M504 346h1M505 102h1M505 127h1M505 187h1M505 315h1M505 317h1M506 100h1M506 179h1M506 237h1M506 241h1M506 282h1M506 316h1M506 319h1M506 345h1M507 98h1M507 128h1M507 185h1M507 321h1M507 323h1M508 96h1M508 180h1M508 183h1M508 239h1M508 281h1M508 315h1M508 325h1M508 345h1M509 129h1M509 327h1M509 329h1M510 94h1M510 181h1M510 182h1M510 237h1M510 241h1M510 280h1M510 314h1M510 331h1M510 333h1M510 345h1M511 92h1M511 131h1M511 243h1M511 335h1M511 337h1M512 90h1M512 179h1M512 184h1M512 236h1M512 278h1M512 314h1M512 339h1M512 341h1M512 343h1M512 344h1M513 88h1M513 132h1M513 177h1M513 245h1M513 345h1M513 347h1M513 349h1M514 86h1M514 186h1M514 234h1M514 247h1M514 277h1M514 313h1M514 344h1M514 351h1M514 353h1M514 355h1M514 357h1M515 84h1M515 133h1M515 175h1M515 359h1M515 361h1M515 363h1M515 365h1M515 367h1M515 369h1M515 371h1M515 381h1M515 383h1M516 187h1M516 232h1M516 249h1M516 276h1M516 312h1M516 344h1M517 135h1M517 173h1M517 251h1M518 171h1M518 189h1M518 231h1M518 275h1M518 311h1M518 343h1M519 136h1M519 253h1M520 169h1M520 191h1M520 229h1M520 255h1M520 274h1M520 311h1M520 343h1M521 138h1M521 257h1M522 167h1M522 193h1M522 227h1M522 273h1M522 310h1M522 343h1M523 139h1M523 165h1M523 259h1M524 195h1M524 226h1M524 261h1M524 272h1M524 309h1M524 342h1M525 141h1M525 163h1M525 263h1M526 197h1M526 224h1M526 308h1M526 342h1M527 142h1M527 161h1M527 265h1M527 270h1M528 199h1M528 222h1M528 267h1M528 308h1M528 342h1M529 144h1M529 159h1M529 269h1M530 156h1M530 201h1M530 221h1M530 271h1M530 307h1M530 341h1M531 145h1M531 268h1M531 273h1M532 154h1M532 203h1M532 219h1M532 275h1M532 306h1M532 341h1M533 147h1M533 267h1M533 277h1M534 152h1M534 205h1M534 217h1M534 279h1M534 306h1M534 341h1M535 148h1M535 150h1M535 266h1M535 281h1M536 207h1M536 216h1M536 283h1M536 305h1M536 340h1M537 148h1M537 150h1M537 209h1M537 265h1M537 285h1M538 214h1M538 287h1M538 304h1M538 340h1M539 146h1M539 152h1M539 211h1M539 263h1M539 289h1M540 144h1M540 212h1M540 291h1M540 303h1M540 339h1M541 154h1M541 213h1M541 262h1M541 293h1M542 142h1M542 211h1M542 215h1M542 295h1M542 303h1M542 339h1M543 155h1M543 261h1M543 297h1M543 299h1M544 140h1M544 209h1M544 217h1M544 301h1M544 302h1M544 339h1M545 138h1M545 157h1M545 260h1M545 303h1M546 207h1M546 219h1M546 301h1M546 305h1M546 307h1M546 338h1M547 136h1M547 159h1M547 221h1M547 259h1M547 309h1M547 311h1M548 206h1M548 301h1M548 313h1M548 338h1M549 134h1M549 161h1M549 223h1M549 258h1M549 315h1M549 317h1M550 132h1M550 204h1M550 225h1M550 300h1M550 319h1M550 321h1M550 338h1M551 163h1M551 257h1M551 323h1M551 325h1M552 130h1M552 202h1M552 227h1M552 299h1M552 327h1M552 329h1M552 337h1M553 165h1M553 229h1M553 255h1M553 331h1M553 333h1M554 128h1M554 201h1M554 231h1M554 298h1M554 335h1M554 337h1M554 339h1M555 167h1M555 254h1M555 341h1M555 343h1M555 345h1M555 347h1M556 126h1M556 199h1M556 233h1M556 298h1M556 337h1M556 349h1M556 351h1M556 353h1M556 355h1M556 357h1M557 124h1M557 169h1M557 235h1M557 253h1M557 359h1M557 361h1M557 363h1M557 365h1M557 367h1M557 369h1M557 371h1M557 381h1M557 383h1M558 197h1M558 237h1M558 297h1M558 336h1M559 122h1M559 171h1M559 252h1M560 195h1M560 239h1M560 296h1M560 336h1M561 120h1M561 173h1M561 241h1M561 251h1M562 118h1M562 194h1M562 243h1M562 295h1M562 336h1M563 175h1M563 245h1M563 250h1M564 192h1M564 295h1M564 335h1M565 177h1M565 247h1M565 248h1M566 190h1M566 249h1M566 294h1M566 335h1M567 179h1M567 247h1M567 251h1M568 181h1M568 189h1M568 253h1M568 293h1M568 335h1M569 246h1M569 255h1M570 183h1M570 187h1M570 257h1M570 293h1M570 334h1M571 245h1M571 259h1M572 185h1M572 261h1M572 292h1M572 334h1M573 187h1M573 244h1M573 263h1M574 184h1M574 265h1M574 291h1M574 334h1M575 189h1M575 243h1M575 267h1M576 182h1M576 269h1M576 290h1M576 333h1M577 191h1M577 242h1M577 271h1M578 180h1M578 193h1M578 273h1M578 290h1M578 333h1M579 240h1M579 275h1M580 179h1M580 195h1M580 277h1M580 279h1M580 289h1M580 333h1M581 197h1M581 239h1M581 281h1M582 177h1M582 283h1M582 288h1M582 332h1M583 199h1M583 238h1M583 285h1M583 287h1M584 175h1M584 201h1M584 288h1M584 289h1M584 332h1M585 237h1M585 291h1M586 174h1M586 203h1M586 287h1M586 293h1M586 295h1M586 331h1M587 205h1M587 236h1M587 297h1M588 172h1M588 286h1M588 299h1M588 301h1M588 331h1M589 207h1M589 235h1M589 303h1M589 305h1M590 170h1M590 209h1M590 285h1M590 307h1M590 309h1M590 331h1M591 211h1M591 234h1M591 311h1M592 169h1M592 285h1M592 313h1M592 315h1M592 317h1M592 330h1M593 213h1M593 232h1M593 319h1M593 321h1M594 167h1M594 215h1M594 284h1M594 323h1M594 325h1M594 330h1M595 217h1M595 231h1M595 327h1M595 329h1M595 331h1M596 165h1M596 283h1M596 330h1M596 333h1M596 335h1M596 337h1M597 219h1M597 230h1M597 339h1M597 341h1M597 343h1M597 345h1M598 164h1M598 221h1M598 282h1M598 329h1M598 347h1M598 349h1M598 351h1M598 353h1M598 355h1M598 357h1M599 223h1M599 229h1M599 359h1M599 361h1M599 363h1M599 365h1M599 367h1M599 369h1M599 371h1M599 381h1M599 383h1M600 162h1M600 225h1M600 282h1M600 329h1M601 227h1M601 228h1M602 160h1M602 281h1M602 329h1M603 227h1M603 229h1M604 159h1M604 231h1M604 280h1M604 328h1M605 225h1M605 233h1M606 235h1M606 280h1M606 328h1M607 224h1M607 237h1M608 239h1M608 279h1M608 328h1M609 223h1M609 241h1M610 243h1M610 278h1M610 327h1M611 222h1M611 245h1M612 247h1M612 277h1M612 327h1M613 221h1M613 249h1M614 251h1M614 277h1M614 327h1M615 220h1M615 253h1M616 255h1M616 276h1M616 326h1M617 219h1M617 257h1M617 259h1M618 261h1M618 275h1M618 326h1M619 217h1M619 263h1M620 265h1M620 275h1M620 326h1M621 216h1M621 267h1M621 269h1M622 271h1M622 274h1M622 325h1M623 215h1M623 273h1M624 273h1M624 275h1M624 277h1M624 325h1M625 214h1M625 279h1M626 272h1M626 281h1M626 283h1M626 325h1M627 213h1M627 285h1M628 272h1M628 287h1M628 289h1M628 324h1M629 212h1M629 291h1M629 293h1M630 271h1M630 295h1M630 324h1M631 211h1M631 297h1M631 299h1M632 270h1M632 301h1M632 303h1M632 324h1M633 209h1M633 305h1M633 307h1M634 269h1M634 309h1M634 311h1M634 313h1M634 323h1M635 208h1M635 315h1M635 317h1M636 269h1M636 319h1M636 321h1M636 323h1M637 207h1M637 325h1M637 327h1M637 329h1M638 268h1M638 322h1M638 331h1M638 333h1M638 335h1M638 337h1M639 339h1M639 341h1M639 343h1M639 345h1M640 267h1M640 347h1M640 349h1M640 351h1M640 353h1M640 355h1M640 357h1M640 359h1M641 322h1M641 361h1M641 363h1M641 365h1M641 367h1M641 369h1M641 371h1M641 381h1M641 383h1M642 267h1M643 322h1M644 266h1M645 321h1M646 265h1M647 321h1M648 264h1M649 321h1M650 264h1M651 320h1M652 263h1M653 320h1M654 262h1M655 320h1M656 262h1M657 319h1M658 261h1M659 319h1M660 260h1M661 319h1M662 259h1M663 318h1M665 318h1M667 318h1M669 317h1M671 317h1M673 317h1M675 316h1M677 316h1" fill="none" stroke="#c0c0c0" stroke-width="1" shape-rendering="crispEdges"/>
<g font-size="11px" stroke="#000" stroke-width="0.15">
<text x="355" y="378.0">-40</text>
<text x="355" y="336.2">-35</text>
<text x="355" y="294.3">-30</text>
<text x="355" y="252.5">-25</text>
<text x="355" y="210.7">-20</text>
<text x="355" y="168.8">-15</text>
<text x="355" y="127.0">-10</text>
<text x="355" y="85.2">-5</text>
<text x="355" y="43.4">0</text>
<text x="389.8" y="392.5" text-anchor="middle">-35</text>
<text x="431.7" y="392.5" text-anchor="middle">-30</text>
<text x="473.5" y="392.5" text-anchor="middle">-25</text>
<text x="515.3" y="392.5" text-anchor="middle">-20</text>
<text x="557.2" y="392.5" text-anchor="middle">-15</text>
<text x="599.0" y="392.5" text-anchor="middle">-10</text>
<text x="640.8" y="392.5" text-anchor="middle">-5</text>
</g>
<text y="27.8" font-size="19.2px" stroke="#000" stroke-width="0.25"><tspan x="203.2" style="letter-spacing:0.149px">Co-Pol</tspan> <tspan x="267.0" style="letter-spacing:-0.255px">YZ-Plane</tspan> <tspan x="351.0" style="letter-spacing:-0.135px">Radiation</tspan> <tspan x="434.7" style="letter-spacing:-0.413px">Pattern</tspan></text>
<path transform="translate(0 0.5)" d="M333 39h31M318 40h15M364 40h15M309 41h9M379 41h9M301 42h8M388 42h8M295 43h6M396 43h6M289 44h6M402 44h6M284 45h5M408 45h5M279 46h5M413 46h5M274 47h5M418 47h5M270 48h4M423 48h4M266 49h4M427 49h4M262 50h4M431 50h4M258 51h4M435 51h4M255 52h3M439 52h3M252 53h3M442 53h3M248 54h4M445 54h4M245 55h3M449 55h3M242 56h3M452 56h3M239 57h3M455 57h3M236 58h3M458 58h3M234 59h2M461 59h2M231 60h3M463 60h3M228 61h3M466 61h3M226 62h2M469 62h2M223 63h3M471 63h3M221 64h2M474 64h2M218 65h3M476 65h3M216 66h2M479 66h2M214 67h2M481 67h2M211 68h3M483 68h3M209 69h2M486 69h2M207 70h2M488 70h2M205 71h2M490 71h2M203 72h2M492 72h2M201 73h2M494 73h2M199 74h2M496 74h2M197 75h2M498 75h2M195 76h2M500 76h2M193 77h2M502 77h2M191 78h2M504 78h2M189 79h2M506 79h2M187 80h2M508 80h2M186 81h1M510 81h1M184 82h2M511 82h2M182 83h2M513 83h2M180 84h2M515 84h2M179 85h1M517 85h1M177 86h2M518 86h2M175 87h2M520 87h2M174 88h1M522 88h1M172 89h2M523 89h2M170 90h2M525 90h2M169 91h1M527 91h1M167 92h2M528 92h2M166 93h1M530 93h1M164 94h2M531 94h2M163 95h1M533 95h1M161 96h2M534 96h2M160 97h1M536 97h1M158 98h2M537 98h2M157 99h1M539 99h1M155 100h2M540 100h2M154 101h1M542 101h1M153 102h1M543 102h1M151 103h2M544 103h2M150 104h1M546 104h1M148 105h2M547 105h2M147 106h1M549 106h1M146 107h1M550 107h1M145 108h1M551 108h1M143 109h2M552 109h2M142 110h1M554 110h1M141 111h1M555 111h1M139 112h2M556 112h2M138 113h1M558 113h1M137 114h1M559 114h1M136 115h1M560 115h1M135 116h1M561 116h1M133 117h2M562 117h2M132 118h1M564 118h1M131 119h1M565 119h1M130 120h1M566 120h1M129 121h1M567 121h1M128 122h1M568 122h1M126 123h2M569 123h2M125 124h1M571 124h1M124 125h1M572 125h1M123 126h1M573 126h1M122 127h1M574 127h1M121 128h1M575 128h1M120 129h1M576 129h1M119 130h1M577 130h1M118 131h1M578 131h1M117 132h1M579 132h1M116 133h1M580 133h1M115 134h1M581 134h1M114 135h1M582 135h1M113 136h1M583 136h1M112 137h1M584 137h1M111 138h1M585 138h1M110 139h1M586 139h1M109 140h1M587 140h1M108 141h1M588 141h1M107 142h1M589 142h1M106 143h1M590 143h1M105 144h1M591 144h1M104 145h1M592 145h1M103 146h1M593 146h1M102 147h1M594 147h1M101 148h1M595 148h1M100 149h1M596 149h1M99 150h1M597 150h1M98 151h1M598 151h1M97 152h1M599 152h1M97 153h1M599 153h1M96 154h1M600 154h1M95 155h1M601 155h1M94 156h1M602 156h1M93 157h1M603 157h1M92 158h1M604 158h1M91 159h1M605 159h1M91 160h1M605 160h1M90 161h1M606 161h1M89 162h1M607 162h1M88 163h1M608 163h1M87 164h1M609 164h1M86 165h1M610 165h1M86 166h1M610 166h1M85 167h1M611 167h1M84 168h1M612 168h1M83 169h1M613 169h1M83 170h1M613 170h1M82 171h1M614 171h1M81 172h1M615 172h1M80 173h1M616 173h1M80 174h1M616 174h1M79 175h1M617 175h1M78 176h1M618 176h1M77 177h1M619 177h1M77 178h1M619 178h1M76 179h1M620 179h1M75 180h1M621 180h1M74 181h1M622 181h1M74 182h1M622 182h1M73 183h1M623 183h1M72 184h1M624 184h1M72 185h1M624 185h1M71 186h1M625 186h1M70 187h1M626 187h1M70 188h1M626 188h1M69 189h1M627 189h1M68 190h1M628 190h1M68 191h1M628 191h1M67 192h1M629 192h1M66 193h1M630 193h1M66 194h1M630 194h1M65 195h1M631 195h1M64 196h1M632 196h1M64 197h1M632 197h1M63 198h1M633 198h1M63 199h1M633 199h1M62 200h1M634 200h1M61 201h1M635 201h1M61 202h1M635 202h1M60 203h1M636 203h1M60 204h1M636 204h1M59 205h1M637 205h1M58 206h1M638 206h1M58 207h1M638 207h1M57 208h1M639 208h1M57 209h1M639 209h1M56 210h1M640 210h1M56 211h1M640 211h1M55 212h1M641 212h1M55 213h1M641 213h1M54 214h1M642 214h1M53 215h1M643 215h1M53 216h1M643 216h1M52 217h1M644 217h1M52 218h1M644 218h1M51 219h1M645 219h1M51 220h1M645 220h1M50 221h1M646 221h1M50 222h1M646 222h1M49 223h1M647 223h1M49 224h1M647 224h1M48 225h1M648 225h1M48 226h1M648 226h1M47 227h1M649 227h1M47 228h1M649 228h1M46 229h1M650 229h1M46 230h1M650 230h1M45 231h1M651 231h1M45 232h1M651 232h1M44 233h1M652 233h1M44 234h1M652 234h1M43 235h1M653 235h1M43 236h1M653 236h1M43 237h1M653 237h1M42 238h1M654 238h1M42 239h1M654 239h1M41 240h1M655 240h1M41 241h1M655 241h1M40 242h1M656 242h1M40 243h1M656 243h1M40 244h1M656 244h1M39 245h1M657 245h1M39 246h1M657 246h1M38 247h1M658 247h1M38 248h1M658 248h1M37 249h1M659 249h1M37 250h1M659 250h1M37 251h1M659 251h1M36 252h1M660 252h1M36 253h1M660 253h1M36 254h1M660 254h1M35 255h1M661 255h1M35 256h1M661 256h1M34 257h1M662 257h1M34 258h1M662 258h1M34 259h1M662 259h1M33 260h1M663 260h1M33 261h1M663 261h1M33 262h1M663 262h1M32 263h1M664 263h1M32 264h1M664 264h1M32 265h1M664 265h1M31 266h1M665 266h1M31 267h1M665 267h1M31 268h1M665 268h1M30 269h1M666 269h1M30 270h1M666 270h1M30 271h1M666 271h1M29 272h1M667 272h1M29 273h1M667 273h1M29 274h1M667 274h1M28 275h1M668 275h1M28 276h1M668 276h1M28 277h1M668 277h1M27 278h1M669 278h1M27 279h1M669 279h1M27 280h1M669 280h1M26 281h1M670 281h1M26 282h1M670 282h1M26 283h1M670 283h1M26 284h1M670 284h1M25 285h1M671 285h1M25 286h1M671 286h1M25 287h1M671 287h1M25 288h1M671 288h1M24 289h1M672 289h1M24 290h1M672 290h1M24 291h1M672 291h1M24 292h1M672 292h1M23 293h1M673 293h1M23 294h1M673 294h1M23 295h1M673 295h1M23 296h1M673 296h1M22 297h1M674 297h1M22 298h1M674 298h1M22 299h1M674 299h1M22 300h1M674 300h1M21 301h1M675 301h1M21 302h1M675 302h1M21 303h1M675 303h1M21 304h1M675 304h1M20 305h1M676 305h1M20 306h1M676 306h1M20 307h1M676 307h1M20 308h1M676 308h1M20 309h1M676 309h1M19 310h1M677 310h1M19 311h1M677 311h1M19 312h1M677 312h1M19 313h1M677 313h1M19 314h1M677 314h1M19 315h1M677 315h1M18 316h1M678 316h1M18 317h1M678 317h1M18 318h1M678 318h1M18 319h1M678 319h1M18 320h1M678 320h1M18 321h1M678 321h1M17 322h1M679 322h1M17 323h1M679 323h1M17 324h1M679 324h1M17 325h1M679 325h1M17 326h1M679 326h1M17 327h1M679 327h1M16 328h1M680 328h1M16 329h1M680 329h1M16 330h1M680 330h1M16 331h1M680 331h1M16 332h1M680 332h1M16 333h1M680 333h1M16 334h1M680 334h1M16 335h1M680 335h1M15 336h1M681 336h1M15 337h1M681 337h1M15 338h1M681 338h1M15 339h1M681 339h1M15 340h1M681 340h1M15 341h1M681 341h1M15 342h1M681 342h1M15 343h1M681 343h1M15 344h1M681 344h1M15 345h1M681 345h1M15 346h1M681 346h1M14 347h1M682 347h1M14 348h1M682 348h1M14 349h1M682 349h1M14 350h1M682 350h1M14 351h1M682 351h1M14 352h1M682 352h1M14 353h1M682 353h1M14 354h1M682 354h1M14 355h1M682 355h1M14 356h1M682 356h1M14 357h1M682 357h1M14 358h1M682 358h1M14 359h1M682 359h1M14 360h1M682 360h1M14 361h1M682 361h1M14 362h1M682 362h1M14 363h1M682 363h1M13 364h1M683 364h1M13 365h1M683 365h1M13 366h1M683 366h1M13 367h1M683 367h1M13 368h1M683 368h1M13 369h1M683 369h1M13 370h1M683 370h1M13 371h1M683 371h1M13 372h1M683 372h1M13 373h1M683 373h1M13 374h1M683 374h1" fill="none" stroke="#000" stroke-width="1" shape-rendering="crispEdges"/>
<rect x="13" y="373" width="671" height="2" fill="#808080"/>
<rect x="347" y="39" width="2" height="335" fill="#000"/>
<g fill="#808080">
<rect x="349" y="374" width="4" height="1"/>
<rect x="349" y="364" width="2" height="1"/>
<rect x="349" y="353" width="2" height="1"/>
<rect x="349" y="342" width="2" height="1"/>
<rect x="349" y="332" width="4" height="1"/>
<rect x="349" y="322" width="2" height="1"/>
<rect x="349" y="311" width="2" height="1"/>
<rect x="349" y="300" width="2" height="1"/>
<rect x="349" y="290" width="4" height="1"/>
<rect x="349" y="280" width="2" height="1"/>
<rect x="349" y="269" width="2" height="1"/>
<rect x="349" y="258" width="2" height="1"/>
<rect x="349" y="248" width="4" height="1"/>
<rect x="349" y="238" width="2" height="1"/>
<rect x="349" y="227" width="2" height="1"/>
<rect x="349" y="216" width="2" height="1"/>
<rect x="349" y="207" width="4" height="1"/>
<rect x="349" y="197" width="2" height="1"/>
<rect x="349" y="186" width="2" height="1"/>
<rect x="349" y="175" width="2" height="1"/>
<rect x="349" y="165" width="4" height="1"/>
<rect x="349" y="155" width="2" height="1"/>
<rect x="349" y="144" width="2" height="1"/>
<rect x="349" y="133" width="2" height="1"/>
<rect x="349" y="123" width="4" height="1"/>
<rect x="349" y="113" width="2" height="1"/>
<rect x="349" y="102" width="2" height="1"/>
<rect x="349" y="91" width="2" height="1"/>
<rect x="349" y="81" width="4" height="1"/>
<rect x="349" y="71" width="2" height="1"/>
<rect x="349" y="60" width="2" height="1"/>
<rect x="349" y="49" width="2" height="1"/>
<rect x="349" y="39" width="4" height="1"/>
</g>
<g fill="#008080">
<rect x="390" y="375" width="1" height="5"/>
<rect x="432" y="375" width="1" height="5"/>
<rect x="474" y="375" width="1" height="5"/>
<rect x="515" y="375" width="1" height="5"/>
<rect x="557" y="375" width="1" height="5"/>
<rect x="599" y="375" width="1" height="5"/>
<rect x="641" y="375" width="1" height="5"/>
</g>
<path transform="translate(0 0.5)" d="M334 38h17M325 39h43M318 40h17M350 40h28M313 41h13M367 41h17M307 42h12M377 42h13M299 43h15M383 43h11M295 44h13M389 44h10M291 45h9M393 45h9M287 46h9M398 46h8M284 47h8M401 47h8M281 48h7M405 48h8M277 49h8M408 49h8M274 50h8M412 50h7M271 51h7M415 51h7M268 52h7M418 52h7M266 53h6M421 53h7M264 54h5M424 54h6M261 55h6M427 55h6M259 56h6M429 56h6M256 57h6M432 57h6M254 58h6M434 58h6M252 59h5M437 59h5M249 60h6M439 60h6M247 61h6M441 61h6M245 62h5M444 62h5M243 63h5M446 63h5M241 64h5M448 64h4M240 65h4M450 65h4M238 66h4M451 66h5M236 67h5M453 67h5M234 68h5M455 68h4M233 69h4M457 69h4M231 70h4M458 70h4M229 71h5M460 71h4M228 72h4M461 72h5M226 73h4M463 73h4M225 74h4M465 74h4M223 75h4M466 75h4M222 76h4M468 76h4M220 77h4M469 77h4M219 78h4M471 78h4M217 79h4M472 79h4M216 80h4M474 80h4M215 81h3M475 81h4M213 82h4M477 82h3M212 83h4M478 83h4M211 84h3M479 84h4M209 85h4M481 85h3M208 86h4M482 86h3M207 87h3M483 87h4M206 88h3M484 88h4M205 89h3M486 89h3M204 90h3M487 90h3M203 91h3M488 91h3M202 92h3M489 92h3M201 93h3M490 93h4M200 94h3M491 94h4M199 95h3M493 95h3M198 96h3M494 96h3M197 97h3M495 97h3M196 98h3M496 98h3M195 99h3M497 99h3M194 100h3M498 100h3M193 101h3M499 101h3M192 102h3M500 102h3M191 103h3M501 103h3M190 104h3M502 104h3M189 105h3M503 105h3M188 106h3M504 106h3M188 107h2M505 107h3M187 108h3M506 108h3M186 109h3M507 109h3M185 110h3M508 110h3M184 111h3M509 111h3M183 112h3M510 112h3M183 113h2M511 113h3M182 114h3M512 114h3M181 115h3M513 115h3M180 116h3M514 116h3M180 117h2M515 117h3M179 118h3M516 118h3M178 119h3M517 119h2M177 120h3M517 120h3M177 121h2M518 121h3M176 122h3M519 122h2M175 123h3M519 123h3M174 124h3M520 124h3M174 125h2M521 125h2M173 126h3M521 126h3M172 127h3M522 127h3M171 128h3M523 128h2M171 129h2M523 129h3M170 130h3M524 130h2M169 131h3M524 131h3M169 132h2M525 132h3M168 133h3M526 133h2M167 134h3M526 134h3M166 135h3M527 135h2M166 136h2M527 136h3M165 137h3M528 137h2M164 138h3M528 138h3M164 139h2M529 139h3M163 140h3M530 140h2M163 141h2M530 141h3M162 142h3M531 142h2M161 143h3M531 143h3M161 144h2M532 144h2M160 145h3M532 145h3M160 146h2M533 146h2M159 147h3M533 147h3M159 148h2M534 148h2M158 149h3M534 149h3M158 150h2M535 150h2M157 151h3M535 151h3M157 152h2M536 152h2M157 153h2M536 153h3M156 154h3M537 154h2M156 155h2M537 155h3M155 156h3M538 156h2M155 157h2M538 157h3M154 158h3M539 158h2M154 159h2M539 159h2M154 160h2M539 160h3M153 161h3M540 161h2M153 162h2M540 162h3M152 163h3M541 163h2M152 164h2M541 164h2M151 165h3M541 165h3M151 166h2M542 166h2M151 167h2M542 167h2M150 168h3M542 168h3M150 169h2M543 169h2M150 170h2M543 170h2M149 171h3M543 171h2M149 172h2M543 172h3M149 173h2M544 173h2M148 174h3M544 174h2M148 175h2M544 175h3M148 176h2M545 176h2M148 177h2M545 177h2M148 178h2M545 178h2M147 179h3M545 179h3M147 180h2M546 180h2M147 181h2M546 181h2M147 182h2M546 182h2M147 183h2M546 183h3M147 184h2M547 184h2M146 185h3M547 185h2M146 186h2M547 186h2M146 187h2M547 187h3M146 188h2M548 188h2M145 189h3M548 189h2M145 190h2M548 190h2M145 191h2M548 191h2M145 192h2M548 192h2M145 193h2M548 193h3M144 194h3M549 194h2M144 195h2M549 195h2M144 196h2M549 196h2M144 197h2M549 197h2M144 198h2M549 198h2M144 199h2M549 199h2M144 200h2M549 200h3M143 201h3M550 201h2M143 202h2M550 202h2M143 203h2M550 203h2M143 204h2M550 204h2M143 205h2M550 205h2M143 206h2M550 206h2M143 207h2M550 207h2M143 208h2M550 208h2M142 209h3M550 209h2M142 210h2M550 210h2M142 211h2M550 211h2M142 212h2M550 212h2M142 213h2M550 213h2M142 214h2M550 214h2M142 215h2M550 215h2M142 216h2M550 216h2M142 217h2M550 217h2M142 218h2M550 218h2M142 219h2M550 219h2M142 220h2M550 220h2M142 221h2M550 221h2M142 222h2M550 222h2M142 223h2M550 223h2M142 224h2M550 224h2M142 225h2M550 225h2M142 226h3M550 226h2M143 227h2M550 227h2M143 228h2M550 228h2M143 229h2M550 229h2M143 230h2M550 230h2M143 231h2M549 231h3M143 232h3M549 232h2M144 233h2M549 233h2M144 234h2M549 234h2M144 235h2M549 235h2M144 236h2M549 236h2M144 237h3M549 237h2M145 238h2M549 238h2M145 239h2M549 239h2M145 240h2M549 240h2M145 241h2M548 241h3M145 242h2M548 242h2M145 243h3M548 243h2M146 244h2M548 244h2M146 245h2M548 245h2M146 246h2M547 246h3M146 247h2M547 247h2M146 248h2M547 248h2M146 249h2M546 249h3M146 250h3M546 250h2M147 251h2M546 251h2M147 252h2M546 252h2M147 253h2M545 253h3M147 254h2M545 254h2M147 255h3M545 255h2M148 256h2M544 256h3M148 257h2M544 257h2M148 258h3M544 258h2M149 259h2M543 259h3M149 260h2M543 260h2M149 261h3M543 261h2M150 262h2M542 262h3M150 263h3M542 263h2M151 264h2M542 264h2M151 265h2M541 265h3M151 266h3M541 266h2M152 267h2M541 267h2M152 268h3M540 268h3M153 269h2M540 269h2M153 270h3M539 270h3M154 271h2M539 271h2M154 272h3M539 272h2M155 273h2M538 273h3M155 274h3M538 274h2M156 275h2M537 275h3M156 276h3M537 276h2M157 277h2M536 277h3M157 278h3M536 278h2M158 279h2M535 279h3M158 280h3M535 280h2M159 281h2M534 281h3M159 282h3M533 282h3M160 283h2M533 283h2M160 284h3M532 284h3M161 285h2M531 285h3M161 286h3M531 286h2M162 287h2M530 287h3M162 288h3M529 288h3M163 289h2M528 289h3M163 290h3M528 290h2M164 291h3M527 291h3M165 292h2M526 292h3M165 293h3M525 293h3M166 294h3M525 294h2M167 295h2M524 295h3M167 296h3M523 296h3M168 297h3M522 297h3M169 298h3M522 298h2M170 299h2M521 299h3M170 300h3M520 300h3M171 301h3M519 301h3M172 302h3M518 302h3M173 303h3M518 303h2M174 304h3M517 304h3M175 305h3M516 305h3M176 306h3M515 306h3M177 307h3M514 307h3M178 308h3M513 308h3M179 309h3M512 309h3M180 310h3M511 310h3M181 311h3M510 311h3M182 312h4M509 312h3M183 313h4M508 313h3M185 314h3M507 314h3M186 315h3M506 315h3M187 316h3M505 316h3M188 317h3M504 317h3M189 318h3M503 318h3M190 319h4M502 319h3M191 320h4M501 320h3M193 321h3M500 321h3M194 322h3M498 322h4M195 323h4M497 323h4M196 324h4M496 324h3M198 325h3M494 325h4M199 326h4M493 326h4M200 327h4M492 327h3M202 328h4M490 328h4M203 329h4M489 329h4M205 330h3M487 330h4M206 331h4M486 331h4M207 332h4M484 332h4M209 333h4M483 333h4M210 334h5M481 334h4M212 335h4M480 335h4M214 336h4M478 336h4M215 337h4M476 337h5M217 338h4M474 338h5M218 339h5M473 339h4M220 340h5M471 340h4M222 341h5M469 341h5M224 342h4M467 342h5M226 343h4M465 343h5M227 344h5M463 344h5M229 345h5M461 345h5M231 346h6M459 346h5M233 347h6M457 347h5M236 348h5M454 348h6M238 349h5M452 349h6M240 350h6M450 350h5M242 351h7M447 351h6M245 352h6M445 352h6M248 353h6M442 353h6M250 354h7M439 354h7M253 355h8M436 355h7M256 356h8M433 356h7M260 357h7M430 357h7M263 358h8M426 358h8M266 359h8M423 359h8M270 360h8M419 360h8M273 361h8M414 361h10M277 362h8M410 362h10M280 363h9M405 363h10M284 364h9M401 364h10M288 365h9M396 365h10M292 366h10M390 366h12M296 367h11M385 367h12M301 368h12M379 368h12M306 369h14M374 369h12M312 370h16M367 370h13M319 371h17M361 371h14M327 372h17M354 372h14M335 373h27M343 374h12" fill="none" stroke="#ff0000" stroke-width="1" shape-rendering="crispEdges"/>
<g fill="#ed1c24" shape-rendering="crispEdges">
<path d="M347.5 30.7l6.9 8.3l-6.9 8.3l-6.9 -8.3z"/>
<path d="M348.5 365.7l6.9 8.3l-6.9 8.3l-6.9 -8.3z"/>
<path d="M476.5 71.7l6.9 8.3l-6.9 8.3l-6.9 -8.3z"/>
<path d="M509.5 104.7l6.9 8.3l-6.9 8.3l-6.9 -8.3z"/>
<path d="M534.5 141.7l6.9 8.3l-6.9 8.3l-6.9 -8.3z"/>
<path d="M541.5 203.7l6.9 8.3l-6.9 8.3l-6.9 -8.3z"/>
<path d="M531.5 266.7l6.9 8.3l-6.9 8.3l-6.9 -8.3z"/>
<path d="M226.5 68.7l6.9 8.3l-6.9 8.3l-6.9 -8.3z"/>
<path d="M188.5 102.7l6.9 8.3l-6.9 8.3l-6.9 -8.3z"/>
<path d="M142.5 158.7l6.9 8.3l-6.9 8.3l-6.9 -8.3z"/>
<path d="M136.5 231.7l6.9 8.3l-6.9 8.3l-6.9 -8.3z"/>
<path d="M152.5 300.7l6.9 8.3l-6.9 8.3l-6.9 -8.3z"/>
</g>
</svg></body></html>
